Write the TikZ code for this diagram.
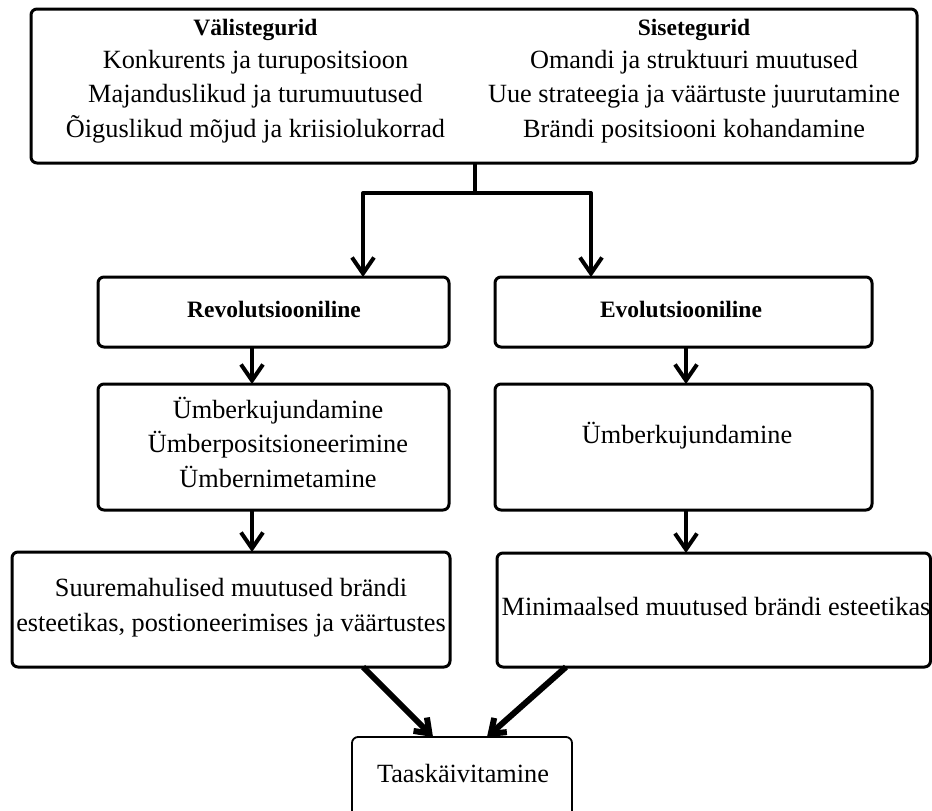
\documentclass[tikz,border=0pt]{standalone}
\usepackage{fontspec}
\setmainfont{Liberation Serif}
\usetikzlibrary{arrows.meta}
\begin{document}
\begin{tikzpicture}[x=1pt,y=-1pt,
  box/.style={draw, line width=3pt, rounded corners=6pt, inner sep=0pt, outer sep=0pt},
  thinbox/.style={box, line width=1.8pt},
  txt/.style={inner sep=0pt, anchor=base, align=center, font=\fontsize{26.3}{34.2}\selectfont},
  hd/.style={inner sep=0pt, anchor=base, font=\fontsize{23.5}{30}\selectfont\bfseries},
  conn/.style={line width=4pt, line join=round},
  arr/.style={conn, -{Straight Barb[length=16pt,width=22pt]}},
  darr/.style={line width=6pt, -{Straight Barb[length=13pt,width=19pt]}}]
\useasboundingbox (0,0) rectangle (932,811);
\clip (0,0) rectangle (932,811);
\fill[white] (0,0) rectangle (932,811);

% boxes
\node[box, minimum width=886pt, minimum height=154pt] (top) at (474,86) {};
\node[box, minimum width=351pt, minimum height=70pt] (rev) at (273.5,312) {};
\node[box, minimum width=377pt, minimum height=70pt] (evo) at (683.5,312) {};
\node[box, minimum width=351pt, minimum height=126pt] (l3) at (273.5,447) {};
\node[box, minimum width=377pt, minimum height=126pt] (r3) at (683.5,447) {};
\node[box, minimum width=438pt, minimum height=115pt] (l4) at (231,609.5) {};
\node[box, minimum width=433.5pt, minimum height=114pt] (r4) at (713.75,610) {};
\node[thinbox, minimum width=220pt, minimum height=113pt] (tk) at (462,793.5) {};

% texts (base anchor = baseline of the last line)
\node[hd] (tlh) at (255.5,35) {Välistegurid};
\node[txt] (tl) at (255.5,137) {Konkurents ja turupositsioon\\Majanduslikud ja turumuutused\\Õiguslikud mõjud ja kriisiolukorrad};
\node[hd] (trh) at (694,35) {Sisetegurid};
\node[txt] (tr) at (694,137) {Omandi ja struktuuri muutused\\Uue strateegia ja väärtuste juurutamine\\Brändi positsiooni kohandamine};
\node[hd] (revt) at (274,317) {Revolutsiooniline};
\node[hd] (evot) at (681,317) {Evolutsiooniline};
\node[txt] (l3t) at (278,487) {Ümberkujundamine\\Ümberpositsioneerimine\\Ümbernimetamine};
\node[txt] (r3t) at (687,443) {Ümberkujundamine};
\node[txt] (l4t) at (231,631) {Suuremahulised muutused brändi\\esteetikas, postioneerimises ja väärtustes};
\node[txt] (r4t) at (716,615) {Minimaalsed muutused brändi esteetikas};
\node[txt] (tkt) at (463,782) {Taaskäivitamine};

% connector columns
\coordinate (split) at (475,193);
\coordinate (cA) at (363,0);
\coordinate (cB) at (591,0);
\coordinate (cL) at (252,0);
\coordinate (cR) at (686,0);
\coordinate (d1) at (363,0);
\coordinate (d2) at (433,0);
\coordinate (d3) at (566,0);
\coordinate (d4) at (487,0);

\draw[conn] (split |- top.south) -- (split);
\draw[arr] (split) -| (rev.north -| cA);
\draw[arr] (split) -| (evo.north -| cB);
\draw[arr] (rev.south -| cL) -- (l3.north -| cL);
\draw[arr] (evo.south -| cR) -- (r3.north -| cR);
\draw[arr] (l3.south -| cL) -- (l4.north -| cL);
\draw[arr] (r3.south -| cR) -- (r4.north -| cR);
\draw[darr] (l4.south -| d1) -- (tk.north -| d2);
\draw[darr] (r4.south -| d3) -- (tk.north -| d4);
\end{tikzpicture}
\end{document}
